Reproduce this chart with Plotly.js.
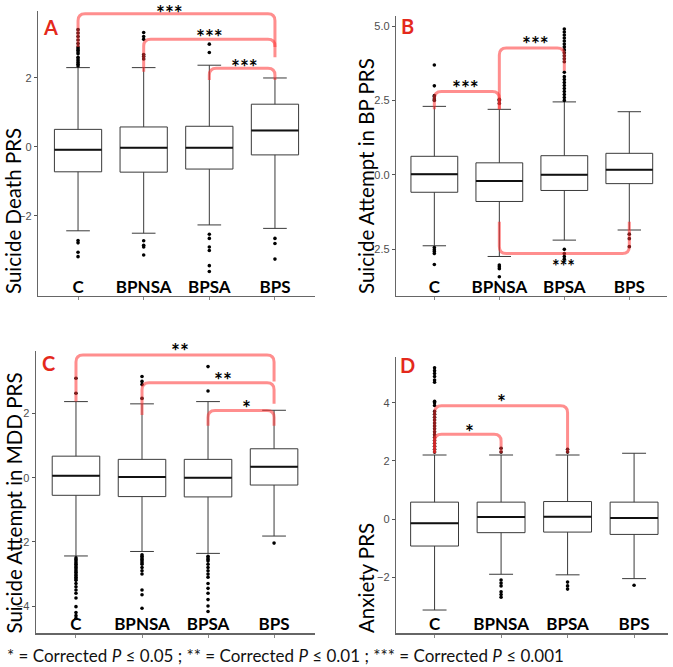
<!DOCTYPE html>
<html><head><meta charset="utf-8">
<script src="https://cdn.plot.ly/plotly-3.0.1.min.js"></script>
<style>html,body{margin:0;padding:0;background:#fff}#chart{width:673px;height:667px}</style>
</head><body><div id="chart"></div>
<script>
// ---------- DATA ----------
const categories = ["C", "BPNSA", "BPSA", "BPS"];

// Panel A: Suicide Death PRS
const A_q1  = [-0.72, -0.73, -0.64, -0.23];
const A_med = [-0.08, -0.02, -0.02, 0.48];
const A_q3  = [0.51, 0.58, 0.60, 1.24];
const A_lo  = [-2.43, -2.50, -2.26, -2.36];
const A_hi  = [2.30, 2.30, 2.37, 2.00];
const A_out = [
  [2.35, 2.4, 2.45, 2.5, 2.55, 2.6, 2.7, 2.75, 2.8, 2.85, 2.9, 3.0, 3.1, 3.2, 3.3, 3.4, -2.71, -2.78, -3.05, -3.18],
  [2.55, 2.62, 2.68, 3.12, 3.2, 3.32, -2.72, -2.85, -2.9, -3.13],
  [2.74, 2.98, -2.53, -2.65, -2.9, -3.0, -3.44, -3.61],
  [-2.65, -2.80, -3.25]
];

// Panel B: Suicide Attempt in BP PRS
const B_q1  = [-0.59, -0.90, -0.53, -0.30];
const B_med = [0.02, -0.21, 0.00, 0.17];
const B_q3  = [0.62, 0.40, 0.64, 0.72];
const B_lo  = [-2.39, -2.75, -2.20, -1.86];
const B_hi  = [2.30, 2.20, 2.45, 2.12];
const B_out = [
  [2.5, 2.55, 2.62, 2.66, 2.99, 3.69, -2.45, -2.52, -2.58, -2.65, -3.02],
  [2.4, 2.5, 2.54, -3.04, -3.1, -3.16, -3.43],
  [2.5, 2.6, 2.7, 2.8, 2.9, 3.0, 3.1, 3.2, 3.3, 3.45, 3.8, 3.9, 4.0, 4.1, 4.2, 4.3, 4.4, 4.5, 4.6, 4.7, 4.8, 4.9, -2.51, -2.65, -2.75, -2.84],
  [-2.0, -2.15, -2.42]
];

// Panel C: Suicide Attempt in MDD PRS
const C_q1  = [-0.55, -0.59, -0.60, -0.23];
const C_med = [0.06, 0.02, 0.00, 0.34];
const C_q3  = [0.67, 0.57, 0.57, 0.90];
const C_lo  = [-2.44, -2.30, -2.36, -1.82];
const C_hi  = [2.37, 2.30, 2.37, 2.10];
const C_out = [
  [2.63, 3.1, -2.5, -2.55, -2.6, -2.65, -2.7, -2.75, -2.8, -2.85, -2.9, -2.95, -3.0, -3.05, -3.1, -3.15, -3.2, -3.3, -3.4, -3.5, -3.6, -3.75, -4.02, -4.2, -4.3, -4.38],
  [2.47, 2.9, 3.0, 3.15, -2.4, -2.45, -2.5, -2.55, -2.6, -2.65, -2.7, -2.8, -2.9, -3.0, -3.5, -3.65, -4.07],
  [2.7, 3.46, -2.45, -2.5, -2.55, -2.6, -2.7, -2.8, -2.9, -3.0, -3.1, -3.3, -3.45, -3.6, -3.8, -4.0, -4.17],
  [-2.04]
];

// Panel D: Anxiety PRS
const D_q1  = [-0.93, -0.47, -0.45, -0.53];
const D_med = [-0.15, 0.07, 0.08, 0.03];
const D_q3  = [0.58, 0.58, 0.60, 0.58];
const D_lo  = [-3.13, -1.90, -1.92, -2.05];
const D_hi  = [2.20, 2.20, 2.20, 2.26];
const D_out = [
  [2.3, 2.4, 2.5, 2.6, 2.7, 2.8, 2.9, 3.0, 3.1, 3.2, 3.3, 3.4, 3.5, 3.6, 3.7, 3.9, 4.0, 4.05, 4.7, 4.78, 4.9, 5.0, 5.1, 5.2],
  [2.3, 2.43, -2.1, -2.2, -2.3, -2.5, -2.6, -2.69],
  [2.3, 2.4, -2.17, -2.3, -2.41],
  [-2.28]
];

// significance comparisons [groupA, groupB, label]
const A_sig = [[0, 3, "***"], [1, 3, "***"], [2, 3, "***"]];
const B_sig = [[0, 1, "***"], [1, 2, "***"], [1, 3, "***"]];
const C_sig = [[0, 3, "**"], [1, 3, "**"], [2, 3, "*"]];
const D_sig = [[0, 1, "*"], [0, 2, "*"]];

const footnote = "* = Corrected <i>P</i> ≤ 0.05 ; ** = Corrected <i>P</i> ≤ 0.01 ; *** = Corrected <i>P</i> ≤ 0.001";

// ---------- LAYOUT CONFIG (positions / styles) ----------
const W = 673, H = 667;
const px = v => v / W, py = v => 1 - v / H;
const panels = [
  {letter: "A", title: "Suicide Death PRS", q1: A_q1, med: A_med, q3: A_q3, lo: A_lo, hi: A_hi, out: A_out, sig: A_sig,
   xd: [38, 315], yd: [296, 10.7], xr: [-0.61, 3.61], yr: [-4.32, 3.95], tv: [-4, -2, 0, 2], tf: "",
   titleX: 13, titleBottom: 296, letterPos: [50, 27],
   br: [{y: 3.86, la: 2.9, lb: 2.9, tx: 1.4, ty: 4.03}, {y: 3.12, la: 2.18, lb: 2.6, tx: 2.0, ty: 3.35}, {y: 2.28, la: 1.94, lb: 1.94, tx: 2.54, ty: 2.49}]},
  {letter: "B", title: "Suicide Attempt in BP PRS", q1: B_q1, med: B_med, q3: B_q3, lo: B_lo, hi: B_hi, out: B_out, sig: B_sig,
   xd: [396, 667], yd: [296, 16], xr: [-0.59, 3.58], yr: [-4.08, 5.34], tv: [-2.5, 0, 2.5, 5], tf: ".1f",
   titleX: 366, titleBottom: 296, letterPos: [408, 26],
   br: [{y: 2.8, la: 2.2, lb: 2.2, tx: 0.48, ty: 3.1}, {y: 4.26, la: 2.2, lb: 3.5, tx: 1.55, ty: 4.59}, {y: -2.65, la: -1.58, lb: -1.58, tx: 1.99, ty: -2.91, fs: 18}]},
  {letter: "C", title: "Suicide Attempt in MDD PRS", q1: C_q1, med: C_med, q3: C_q3, lo: C_lo, hi: C_hi, out: C_out, sig: C_sig,
   xd: [35.7, 315], yd: [633.3, 350.9], xr: [-0.61, 3.62], yr: [-4.85, 3.95], tv: [-4, -2, 0, 2], tf: "",
   titleX: 13, titleBottom: 636, letterPos: [48, 363],
   br: [{y: 3.82, la: 2.37, lb: 3.0, tx: 1.58, ty: 4.13}, {y: 2.96, la: 1.95, lb: 2.3, tx: 2.22, ty: 3.2}, {y: 2.09, la: 1.62, lb: 1.62, tx: 2.58, ty: 2.34}]},
  {letter: "D", title: "Anxiety PRS", q1: D_q1, med: D_med, q3: D_q3, lo: D_lo, hi: D_hi, out: D_out, sig: D_sig,
   xd: [396, 668], yd: [633.3, 356.7], xr: [-0.58, 3.51], yr: [-3.93, 5.58], tv: [-2, 0, 2, 4], tf: "",
   titleX: 366, titleBottom: 635, letterPos: [408, 365],
   br: [{y: 2.91, la: 2.26, lb: 2.26, tx: 0.52, ty: 3.17}, {y: 3.89, la: 2.26, lb: 2.26, tx: 1.0, ty: 4.2}]}
];

const BOXW = 0.72;
const BR_COLOR = "rgba(255,50,50,0.55)";
const data = [], shapes = [], annotations = [];
const layout = {
  width: W, height: H, margin: {l: 0, r: 0, t: 0, b: 0},
  paper_bgcolor: "#fff", plot_bgcolor: "#fff", showlegend: false,
  font: {family: "Lato, sans-serif", color: "#000"}
};
const idx = categories.map((c, i) => i);

panels.forEach((p, k) => {
  const n = k === 0 ? "" : String(k + 1);
  const xa = "x" + n, ya = "y" + n;
  data.push({
    type: "box", x: idx, q1: p.q1, median: p.med, q3: p.q3, lowerfence: p.lo, upperfence: p.hi,
    width: BOXW, boxpoints: false, fillcolor: "#ffffff", line: {color: "#3a3a3a", width: 1},
    xaxis: xa, yaxis: ya, hoverinfo: "skip"
  });
  const ox = [], oy = [];
  p.out.forEach((arr, i) => arr.forEach(v => { ox.push(i); oy.push(v); }));
  data.push({type: "scatter", mode: "markers", x: ox, y: oy, xaxis: xa, yaxis: ya,
    marker: {color: "#000", size: 3.6}, hoverinfo: "skip", cliponaxis: false});
  p.med.forEach((m, i) => shapes.push({type: "line", xref: xa, yref: ya, x0: i - BOXW / 2, x1: i + BOXW / 2, y0: m, y1: m,
    line: {color: "#111", width: 2}}));
  const pxPerUnit = (p.yd[0] - p.yd[1]) / (p.yr[1] - p.yr[0]);
  const pxPerX = (p.xd[1] - p.xd[0]) / (p.xr[1] - p.xr[0]);
  const d0 = py(p.yd[0]), d1 = py(p.yd[1]);
  const yPaper = v => d0 + (v - p.yr[0]) / (p.yr[1] - p.yr[0]) * (d1 - d0);
  layout["xaxis" + n] = {
    domain: [px(p.xd[0]), px(p.xd[1])], range: p.xr, anchor: ya, fixedrange: true,
    tickvals: idx, ticktext: categories, ticklabelposition: "inside", ticks: "outside", ticklen: 3, tickcolor: "#888",
    tickfont: {family: "Lato, sans-serif", size: 17, color: "#000", weight: "bold"},
    showline: true, linecolor: "#666", linewidth: 1.2, showgrid: false, zeroline: false
  };
  layout["yaxis" + n] = {
    domain: [d0, d1], range: p.yr, anchor: xa, fixedrange: true,
    tickvals: p.tv, tickformat: p.tf, ticks: "outside", ticklen: 3, tickcolor: "#555",
    tickfont: {family: "Liberation Sans, Arial, sans-serif", size: 11, color: "#4d4d4d"},
    showline: true, linecolor: "#666", linewidth: 1.2, showgrid: false, zeroline: false
  };
  annotations.push({text: p.title, xref: "paper", yref: "paper", x: px(p.titleX), y: py(p.titleBottom),
    xanchor: "center", yanchor: "bottom", textangle: -90, showarrow: false,
    font: {family: "Lato, sans-serif", size: 20.5, color: "#000"}});
  annotations.push({text: "<b>" + p.letter + "</b>", xref: "paper", yref: "paper", x: px(p.letterPos[0]), y: py(p.letterPos[1]),
    xanchor: "center", yanchor: "middle", showarrow: false,
    font: {family: "Lato, sans-serif", size: 20, color: "#e4291c"}});
  const rx = 7 / pxPerX, ry = 7 / pxPerUnit;
  p.sig.forEach((s, j) => {
    const b = p.br[j], a = s[0], c = s[1];
    const dir = b.y > b.la ? 1 : -1;
    const path = `M ${a},${b.la} L ${a},${b.y - dir * ry} Q ${a},${b.y} ${a + rx},${b.y} L ${c - rx},${b.y} Q ${c},${b.y} ${c},${b.y - dir * ry} L ${c},${b.lb}`;
    shapes.push({type: "path", xref: xa, yref: ya, path: path, line: {color: BR_COLOR, width: 3}, layer: "above"});
    annotations.push({text: "<b>" + s[2] + "</b>", xref: xa, yref: "paper", x: b.tx, y: yPaper(b.ty), yshift: -5,
      xanchor: "center", yanchor: "middle", showarrow: false,
      font: {family: "Lato, sans-serif", size: b.fs || 21, color: "#000"}});
  });
});

annotations.push({text: footnote, xref: "paper", yref: "paper", x: px(5), y: py(655), xanchor: "left", yanchor: "middle",
  showarrow: false, font: {family: "Lato, sans-serif", size: 17, color: "#111"}});

layout.shapes = shapes;
layout.annotations = annotations;
Plotly.newPlot("chart", data, layout, {displayModeBar: false, staticPlot: true});
</script>
</body></html>
